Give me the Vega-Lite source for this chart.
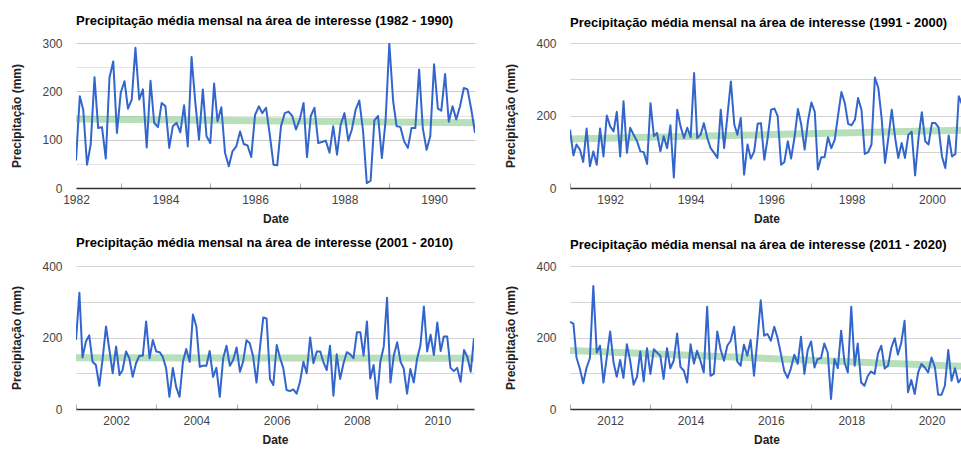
{
"$schema": "https://vega.github.io/schema/vega-lite/v6.json",
"padding": {"left": 10, "top": 15, "right": 0, "bottom": 0},
"bounds": "flush",
"columns": 2,
"spacing": {"row": 78, "column": 95},
"config": {
  "font": "Liberation Sans",
  "view": {"stroke": null},
  "axis": {"labelFont": "Liberation Sans", "labelFontSize": 12, "labelColor": "#444444", "titleFont": "Liberation Sans", "titleFontSize": 12, "titleFontWeight": "bold", "titleColor": "#222222", "labelFlush": false, "labelOverlap": false, "labelBound": false},
  "axisX": {"format": "%Y", "labelExpr": "utcyear(datum.value) % 2 == 0 ? datum.label : ''", "grid": true, "gridColor": "#cccccc", "gridOpacity": {"condition": {"test": "utcyear(datum.value) % 2 == 0", "value": 1}, "value": 0}, "ticks": true, "tickSize": -5, "tickColor": "#aaaaaa", "tickOpacity": {"condition": {"test": "utcyear(datum.value) % 2 == 0", "value": 0}, "value": 1}, "labelPadding": 11, "domain": true, "domainColor": "#333333", "domainWidth": 1.5, "titlePadding": 8},
  "axisY": {"grid": true, "domain": false, "ticks": false, "labelPadding": 14, "titlePadding": 18},
  "title": {"font": "Liberation Sans", "fontSize": 13, "fontWeight": "bold", "color": "#000000", "anchor": "start", "frame": "group"}
},
"concat": [
{
 "width": 399, "height": 145,
 "title": {"text": "Precipitação média mensal na área de interesse (1982 - 1990)", "offset": 9},
 "data": {"values": [
{"d":"1982-01-01","v":57},{"d":"1982-02-01","v":190},{"d":"1982-03-01","v":162},{"d":"1982-04-01","v":48},{"d":"1982-05-01","v":90},{"d":"1982-06-01","v":229},{"d":"1982-07-01","v":124},{"d":"1982-08-01","v":126},{"d":"1982-09-01","v":61},{"d":"1982-10-01","v":228},{"d":"1982-11-01","v":262},{"d":"1982-12-01","v":114},
{"d":"1983-01-01","v":197},{"d":"1983-02-01","v":221},{"d":"1983-03-01","v":164},{"d":"1983-04-01","v":183},{"d":"1983-05-01","v":290},{"d":"1983-06-01","v":183},{"d":"1983-07-01","v":204},{"d":"1983-08-01","v":84},{"d":"1983-09-01","v":222},{"d":"1983-10-01","v":135},{"d":"1983-11-01","v":126},{"d":"1983-12-01","v":176},
{"d":"1984-01-01","v":169},{"d":"1984-02-01","v":83},{"d":"1984-03-01","v":128},{"d":"1984-04-01","v":135},{"d":"1984-05-01","v":115},{"d":"1984-06-01","v":171},{"d":"1984-07-01","v":86},{"d":"1984-08-01","v":271},{"d":"1984-09-01","v":176},{"d":"1984-10-01","v":100},{"d":"1984-11-01","v":204},{"d":"1984-12-01","v":107},
{"d":"1985-01-01","v":93},{"d":"1985-02-01","v":216},{"d":"1985-03-01","v":138},{"d":"1985-04-01","v":167},{"d":"1985-05-01","v":73},{"d":"1985-06-01","v":45},{"d":"1985-07-01","v":76},{"d":"1985-08-01","v":86},{"d":"1985-09-01","v":117},{"d":"1985-10-01","v":91},{"d":"1985-11-01","v":88},{"d":"1985-12-01","v":64},
{"d":"1986-01-01","v":151},{"d":"1986-02-01","v":169},{"d":"1986-03-01","v":155},{"d":"1986-04-01","v":166},{"d":"1986-05-01","v":111},{"d":"1986-06-01","v":48},{"d":"1986-07-01","v":47},{"d":"1986-08-01","v":128},{"d":"1986-09-01","v":155},{"d":"1986-10-01","v":158},{"d":"1986-11-01","v":149},{"d":"1986-12-01","v":121},
{"d":"1987-01-01","v":142},{"d":"1987-02-01","v":176},{"d":"1987-03-01","v":64},{"d":"1987-04-01","v":149},{"d":"1987-05-01","v":166},{"d":"1987-06-01","v":93},{"d":"1987-07-01","v":95},{"d":"1987-08-01","v":98},{"d":"1987-09-01","v":73},{"d":"1987-10-01","v":128},{"d":"1987-11-01","v":69},{"d":"1987-12-01","v":131},
{"d":"1988-01-01","v":155},{"d":"1988-02-01","v":98},{"d":"1988-03-01","v":121},{"d":"1988-04-01","v":162},{"d":"1988-05-01","v":181},{"d":"1988-06-01","v":117},{"d":"1988-07-01","v":10},{"d":"1988-08-01","v":15},{"d":"1988-09-01","v":140},{"d":"1988-10-01","v":149},{"d":"1988-11-01","v":62},{"d":"1988-12-01","v":138},
{"d":"1989-01-01","v":299},{"d":"1989-02-01","v":180},{"d":"1989-03-01","v":128},{"d":"1989-04-01","v":126},{"d":"1989-05-01","v":97},{"d":"1989-06-01","v":83},{"d":"1989-07-01","v":124},{"d":"1989-08-01","v":124},{"d":"1989-09-01","v":245},{"d":"1989-10-01","v":124},{"d":"1989-11-01","v":79},{"d":"1989-12-01","v":107},
{"d":"1990-01-01","v":256},{"d":"1990-02-01","v":164},{"d":"1990-03-01","v":160},{"d":"1990-04-01","v":236},{"d":"1990-05-01","v":137},{"d":"1990-06-01","v":169},{"d":"1990-07-01","v":142},{"d":"1990-08-01","v":169},{"d":"1990-09-01","v":207},{"d":"1990-10-01","v":204},{"d":"1990-11-01","v":162},{"d":"1990-12-01","v":114}
 ]},
 "encoding": {
  "x": {"field": "d", "type": "temporal", "title": "Date", "scale": {"type": "utc", "nice": false, "domain": [{"year":1982,"month":1,"date":1,"utc":true},{"year":1990,"month":12,"date":1,"utc":true}]},
        "axis": {"values": [{"year":1982,"utc":true},{"year":1983,"utc":true},{"year":1984,"utc":true},{"year":1985,"utc":true},{"year":1986,"utc":true},{"year":1987,"utc":true},{"year":1988,"utc":true},{"year":1989,"utc":true},{"year":1990,"utc":true}]}},
  "y": {"field": "v", "type": "quantitative", "title": "Precipitação (mm)", "scale": {"domain": [0, 300], "nice": false},
        "axis": {"values": [0,50,100,150,200,250,300], "labelExpr": "datum.value % 100 == 0 ? datum.label : ''", "gridColor": {"condition": {"test": "datum.value % 100 == 0", "value": "#cccccc"}, "value": "#e4e4e4"}}}
 },
 "layer": [
  {"transform": [{"regression": "v", "on": "d"}], "mark": {"type": "line", "color": "#109618", "opacity": 0.3, "strokeWidth": 7, "clip": true}},
  {"mark": {"type": "line", "color": "#3366cc", "strokeWidth": 2, "strokeJoin": "round", "clip": true}}
 ]
},
{
 "width": 393, "height": 145,
 "title": {"text": "Precipitação média mensal na área de interesse (1991 - 2000)", "offset": 7},
 "data": {"values": [
{"d":"1991-01-01","v":161},{"d":"1991-02-01","v":90},{"d":"1991-03-01","v":120},{"d":"1991-04-01","v":106},{"d":"1991-05-01","v":72},{"d":"1991-06-01","v":164},{"d":"1991-07-01","v":60},{"d":"1991-08-01","v":101},{"d":"1991-09-01","v":64},{"d":"1991-10-01","v":164},{"d":"1991-11-01","v":87},{"d":"1991-12-01","v":200},
{"d":"1992-01-01","v":170},{"d":"1992-02-01","v":156},{"d":"1992-03-01","v":210},{"d":"1992-04-01","v":87},{"d":"1992-05-01","v":239},{"d":"1992-06-01","v":97},{"d":"1992-07-01","v":166},{"d":"1992-08-01","v":147},{"d":"1992-09-01","v":129},{"d":"1992-10-01","v":101},{"d":"1992-11-01","v":99},{"d":"1992-12-01","v":66},
{"d":"1993-01-01","v":234},{"d":"1993-02-01","v":143},{"d":"1993-03-01","v":152},{"d":"1993-04-01","v":101},{"d":"1993-05-01","v":143},{"d":"1993-06-01","v":110},{"d":"1993-07-01","v":173},{"d":"1993-08-01","v":29},{"d":"1993-09-01","v":216},{"d":"1993-10-01","v":170},{"d":"1993-11-01","v":138},{"d":"1993-12-01","v":166},
{"d":"1994-01-01","v":140},{"d":"1994-02-01","v":317},{"d":"1994-03-01","v":138},{"d":"1994-04-01","v":147},{"d":"1994-05-01","v":179},{"d":"1994-06-01","v":138},{"d":"1994-07-01","v":110},{"d":"1994-08-01","v":97},{"d":"1994-09-01","v":83},{"d":"1994-10-01","v":216},{"d":"1994-11-01","v":110},{"d":"1994-12-01","v":200},
{"d":"1995-01-01","v":294},{"d":"1995-02-01","v":175},{"d":"1995-03-01","v":147},{"d":"1995-04-01","v":193},{"d":"1995-05-01","v":37},{"d":"1995-06-01","v":120},{"d":"1995-07-01","v":81},{"d":"1995-08-01","v":101},{"d":"1995-09-01","v":177},{"d":"1995-10-01","v":179},{"d":"1995-11-01","v":78},{"d":"1995-12-01","v":138},
{"d":"1996-01-01","v":216},{"d":"1996-02-01","v":219},{"d":"1996-03-01","v":198},{"d":"1996-04-01","v":64},{"d":"1996-05-01","v":72},{"d":"1996-06-01","v":129},{"d":"1996-07-01","v":81},{"d":"1996-08-01","v":140},{"d":"1996-09-01","v":218},{"d":"1996-10-01","v":175},{"d":"1996-11-01","v":106},{"d":"1996-12-01","v":184},
{"d":"1997-01-01","v":236},{"d":"1997-02-01","v":210},{"d":"1997-03-01","v":51},{"d":"1997-04-01","v":85},{"d":"1997-05-01","v":85},{"d":"1997-06-01","v":140},{"d":"1997-07-01","v":110},{"d":"1997-08-01","v":133},{"d":"1997-09-01","v":202},{"d":"1997-10-01","v":265},{"d":"1997-11-01","v":234},{"d":"1997-12-01","v":177},
{"d":"1998-01-01","v":173},{"d":"1998-02-01","v":189},{"d":"1998-03-01","v":248},{"d":"1998-04-01","v":216},{"d":"1998-05-01","v":94},{"d":"1998-06-01","v":99},{"d":"1998-07-01","v":120},{"d":"1998-08-01","v":305},{"d":"1998-09-01","v":276},{"d":"1998-10-01","v":193},{"d":"1998-11-01","v":69},{"d":"1998-12-01","v":138},
{"d":"1999-01-01","v":216},{"d":"1999-02-01","v":138},{"d":"1999-03-01","v":83},{"d":"1999-04-01","v":124},{"d":"1999-05-01","v":83},{"d":"1999-06-01","v":147},{"d":"1999-07-01","v":155},{"d":"1999-08-01","v":35},{"d":"1999-09-01","v":138},{"d":"1999-10-01","v":209},{"d":"1999-11-01","v":129},{"d":"1999-12-01","v":120},
{"d":"2000-01-01","v":179},{"d":"2000-02-01","v":179},{"d":"2000-03-01","v":167},{"d":"2000-04-01","v":87},{"d":"2000-05-01","v":55},{"d":"2000-06-01","v":145},{"d":"2000-07-01","v":87},{"d":"2000-08-01","v":94},{"d":"2000-09-01","v":253},{"d":"2000-10-01","v":230},{"d":"2000-11-01","v":215},{"d":"2000-12-01","v":150}
 ]},
 "encoding": {
  "x": {"field": "d", "type": "temporal", "title": "Date", "scale": {"type": "utc", "nice": false, "domain": [{"year":1991,"month":1,"date":1,"utc":true},{"year":2000,"month":10,"date":9,"utc":true}]},
        "axis": {"values": [{"year":1991,"utc":true},{"year":1992,"utc":true},{"year":1993,"utc":true},{"year":1994,"utc":true},{"year":1995,"utc":true},{"year":1996,"utc":true},{"year":1997,"utc":true},{"year":1998,"utc":true},{"year":1999,"utc":true},{"year":2000,"utc":true}]}},
  "y": {"field": "v", "type": "quantitative", "title": "Precipitação (mm)", "scale": {"domain": [0, 400], "nice": false},
        "axis": {"values": [0,100,200,300,400], "labelExpr": "datum.value % 200 == 0 ? datum.label : ''", "gridColor": "#d4d4d4"}}
 },
 "layer": [
  {"transform": [{"regression": "v", "on": "d"}], "mark": {"type": "line", "color": "#109618", "opacity": 0.3, "strokeWidth": 7, "clip": true}},
  {"mark": {"type": "line", "color": "#3366cc", "strokeWidth": 2, "strokeJoin": "round", "clip": true}}
 ]
},
{
 "width": 398, "height": 143,
 "title": {"text": "Precipitação média mensal na área de interesse (2001 - 2010)", "offset": 10},
 "data": {"values": [
{"d":"2001-01-01","v":193},{"d":"2001-02-01","v":325},{"d":"2001-03-01","v":144},{"d":"2001-04-01","v":189},{"d":"2001-05-01","v":206},{"d":"2001-06-01","v":132},{"d":"2001-07-01","v":123},{"d":"2001-08-01","v":65},{"d":"2001-09-01","v":142},{"d":"2001-10-01","v":231},{"d":"2001-11-01","v":165},{"d":"2001-12-01","v":100},
{"d":"2002-01-01","v":175},{"d":"2002-02-01","v":95},{"d":"2002-03-01","v":109},{"d":"2002-04-01","v":161},{"d":"2002-05-01","v":142},{"d":"2002-06-01","v":90},{"d":"2002-07-01","v":128},{"d":"2002-08-01","v":149},{"d":"2002-09-01","v":149},{"d":"2002-10-01","v":245},{"d":"2002-11-01","v":142},{"d":"2002-12-01","v":193},
{"d":"2003-01-01","v":161},{"d":"2003-02-01","v":159},{"d":"2003-03-01","v":146},{"d":"2003-04-01","v":114},{"d":"2003-05-01","v":34},{"d":"2003-06-01","v":115},{"d":"2003-07-01","v":62},{"d":"2003-08-01","v":34},{"d":"2003-09-01","v":132},{"d":"2003-10-01","v":168},{"d":"2003-11-01","v":132},{"d":"2003-12-01","v":264},
{"d":"2004-01-01","v":231},{"d":"2004-02-01","v":118},{"d":"2004-03-01","v":121},{"d":"2004-04-01","v":121},{"d":"2004-05-01","v":162},{"d":"2004-06-01","v":90},{"d":"2004-07-01","v":115},{"d":"2004-08-01","v":34},{"d":"2004-09-01","v":142},{"d":"2004-10-01","v":177},{"d":"2004-11-01","v":121},{"d":"2004-12-01","v":137},
{"d":"2005-01-01","v":172},{"d":"2005-02-01","v":104},{"d":"2005-03-01","v":132},{"d":"2005-04-01","v":192},{"d":"2005-05-01","v":184},{"d":"2005-06-01","v":146},{"d":"2005-07-01","v":74},{"d":"2005-08-01","v":170},{"d":"2005-09-01","v":256},{"d":"2005-10-01","v":253},{"d":"2005-11-01","v":84},{"d":"2005-12-01","v":67},
{"d":"2006-01-01","v":179},{"d":"2006-02-01","v":142},{"d":"2006-03-01","v":115},{"d":"2006-04-01","v":53},{"d":"2006-05-01","v":50},{"d":"2006-06-01","v":55},{"d":"2006-07-01","v":43},{"d":"2006-08-01","v":76},{"d":"2006-09-01","v":132},{"d":"2006-10-01","v":100},{"d":"2006-11-01","v":200},{"d":"2006-12-01","v":128},
{"d":"2007-01-01","v":161},{"d":"2007-02-01","v":161},{"d":"2007-03-01","v":132},{"d":"2007-04-01","v":109},{"d":"2007-05-01","v":177},{"d":"2007-06-01","v":37},{"d":"2007-07-01","v":153},{"d":"2007-08-01","v":84},{"d":"2007-09-01","v":128},{"d":"2007-10-01","v":159},{"d":"2007-11-01","v":153},{"d":"2007-12-01","v":142},
{"d":"2008-01-01","v":215},{"d":"2008-02-01","v":215},{"d":"2008-03-01","v":149},{"d":"2008-04-01","v":245},{"d":"2008-05-01","v":85},{"d":"2008-06-01","v":123},{"d":"2008-07-01","v":29},{"d":"2008-08-01","v":132},{"d":"2008-09-01","v":175},{"d":"2008-10-01","v":311},{"d":"2008-11-01","v":74},{"d":"2008-12-01","v":149},
{"d":"2009-01-01","v":187},{"d":"2009-02-01","v":132},{"d":"2009-03-01","v":114},{"d":"2009-04-01","v":43},{"d":"2009-05-01","v":112},{"d":"2009-06-01","v":74},{"d":"2009-07-01","v":140},{"d":"2009-08-01","v":179},{"d":"2009-09-01","v":287},{"d":"2009-10-01","v":161},{"d":"2009-11-01","v":208},{"d":"2009-12-01","v":151},
{"d":"2010-01-01","v":242},{"d":"2010-02-01","v":162},{"d":"2010-03-01","v":203},{"d":"2010-04-01","v":203},{"d":"2010-05-01","v":115},{"d":"2010-06-01","v":106},{"d":"2010-07-01","v":115},{"d":"2010-08-01","v":76},{"d":"2010-09-01","v":165},{"d":"2010-10-01","v":146},{"d":"2010-11-01","v":104},{"d":"2010-12-01","v":198}
 ]},
 "encoding": {
  "x": {"field": "d", "type": "temporal", "title": "Date", "scale": {"type": "utc", "nice": false, "domain": [{"year":2001,"month":1,"date":1,"utc":true},{"year":2010,"month":12,"date":1,"utc":true}]},
        "axis": {"values": [{"year":2001,"utc":true},{"year":2002,"utc":true},{"year":2003,"utc":true},{"year":2004,"utc":true},{"year":2005,"utc":true},{"year":2006,"utc":true},{"year":2007,"utc":true},{"year":2008,"utc":true},{"year":2009,"utc":true},{"year":2010,"utc":true}]}},
  "y": {"field": "v", "type": "quantitative", "title": "Precipitação (mm)", "scale": {"domain": [0, 400], "nice": false},
        "axis": {"values": [0,100,200,300,400], "labelExpr": "datum.value % 200 == 0 ? datum.label : ''", "gridColor": "#d4d4d4"}}
 },
 "layer": [
  {"transform": [{"regression": "v", "on": "d"}], "mark": {"type": "line", "color": "#109618", "opacity": 0.3, "strokeWidth": 7, "clip": true}},
  {"mark": {"type": "line", "color": "#3366cc", "strokeWidth": 2, "strokeJoin": "round", "clip": true}}
 ]
},
{
 "width": 393, "height": 143,
 "title": {"text": "Precipitação média mensal na área de interesse (2011 - 2020)", "offset": 8},
 "data": {"values": [
{"d":"2011-01-01","v":244},{"d":"2011-02-01","v":239},{"d":"2011-03-01","v":144},{"d":"2011-04-01","v":112},{"d":"2011-05-01","v":72},{"d":"2011-06-01","v":116},{"d":"2011-07-01","v":142},{"d":"2011-08-01","v":344},{"d":"2011-09-01","v":158},{"d":"2011-10-01","v":177},{"d":"2011-11-01","v":74},{"d":"2011-12-01","v":144},
{"d":"2012-01-01","v":217},{"d":"2012-02-01","v":130},{"d":"2012-03-01","v":90},{"d":"2012-04-01","v":137},{"d":"2012-05-01","v":87},{"d":"2012-06-01","v":181},{"d":"2012-07-01","v":135},{"d":"2012-08-01","v":68},{"d":"2012-09-01","v":90},{"d":"2012-10-01","v":161},{"d":"2012-11-01","v":77},{"d":"2012-12-01","v":170},
{"d":"2013-01-01","v":98},{"d":"2013-02-01","v":167},{"d":"2013-03-01","v":158},{"d":"2013-04-01","v":149},{"d":"2013-05-01","v":84},{"d":"2013-06-01","v":170},{"d":"2013-07-01","v":114},{"d":"2013-08-01","v":135},{"d":"2013-09-01","v":211},{"d":"2013-10-01","v":118},{"d":"2013-11-01","v":107},{"d":"2013-12-01","v":74},
{"d":"2014-01-01","v":181},{"d":"2014-02-01","v":127},{"d":"2014-03-01","v":163},{"d":"2014-04-01","v":135},{"d":"2014-05-01","v":102},{"d":"2014-06-01","v":286},{"d":"2014-07-01","v":93},{"d":"2014-08-01","v":98},{"d":"2014-09-01","v":217},{"d":"2014-10-01","v":167},{"d":"2014-11-01","v":135},{"d":"2014-12-01","v":177},
{"d":"2015-01-01","v":191},{"d":"2015-02-01","v":230},{"d":"2015-03-01","v":133},{"d":"2015-04-01","v":121},{"d":"2015-05-01","v":180},{"d":"2015-06-01","v":149},{"d":"2015-07-01","v":193},{"d":"2015-08-01","v":93},{"d":"2015-09-01","v":195},{"d":"2015-10-01","v":304},{"d":"2015-11-01","v":205},{"d":"2015-12-01","v":210},
{"d":"2016-01-01","v":191},{"d":"2016-02-01","v":230},{"d":"2016-03-01","v":200},{"d":"2016-04-01","v":155},{"d":"2016-05-01","v":107},{"d":"2016-06-01","v":87},{"d":"2016-07-01","v":113},{"d":"2016-08-01","v":152},{"d":"2016-09-01","v":126},{"d":"2016-10-01","v":202},{"d":"2016-11-01","v":98},{"d":"2016-12-01","v":165},
{"d":"2017-01-01","v":189},{"d":"2017-02-01","v":116},{"d":"2017-03-01","v":140},{"d":"2017-04-01","v":142},{"d":"2017-05-01","v":183},{"d":"2017-06-01","v":158},{"d":"2017-07-01","v":28},{"d":"2017-08-01","v":140},{"d":"2017-09-01","v":114},{"d":"2017-10-01","v":219},{"d":"2017-11-01","v":130},{"d":"2017-12-01","v":102},
{"d":"2018-01-01","v":286},{"d":"2018-02-01","v":121},{"d":"2018-03-01","v":183},{"d":"2018-04-01","v":74},{"d":"2018-05-01","v":65},{"d":"2018-06-01","v":93},{"d":"2018-07-01","v":105},{"d":"2018-08-01","v":98},{"d":"2018-09-01","v":155},{"d":"2018-10-01","v":177},{"d":"2018-11-01","v":113},{"d":"2018-12-01","v":121},
{"d":"2019-01-01","v":172},{"d":"2019-02-01","v":198},{"d":"2019-03-01","v":152},{"d":"2019-04-01","v":186},{"d":"2019-05-01","v":247},{"d":"2019-06-01","v":47},{"d":"2019-07-01","v":81},{"d":"2019-08-01","v":42},{"d":"2019-09-01","v":102},{"d":"2019-10-01","v":126},{"d":"2019-11-01","v":116},{"d":"2019-12-01","v":102},
{"d":"2020-01-01","v":144},{"d":"2020-02-01","v":116},{"d":"2020-03-01","v":40},{"d":"2020-04-01","v":40},{"d":"2020-05-01","v":65},{"d":"2020-06-01","v":165},{"d":"2020-07-01","v":79},{"d":"2020-08-01","v":114},{"d":"2020-09-01","v":74},{"d":"2020-10-01","v":87},{"d":"2020-11-01","v":95},{"d":"2020-12-01","v":110}
 ]},
 "encoding": {
  "x": {"field": "d", "type": "temporal", "title": "Date", "scale": {"type": "utc", "nice": false, "domain": [{"year":2011,"month":1,"date":1,"utc":true},{"year":2020,"month":10,"date":13,"utc":true}]},
        "axis": {"values": [{"year":2011,"utc":true},{"year":2012,"utc":true},{"year":2013,"utc":true},{"year":2014,"utc":true},{"year":2015,"utc":true},{"year":2016,"utc":true},{"year":2017,"utc":true},{"year":2018,"utc":true},{"year":2019,"utc":true},{"year":2020,"utc":true}]}},
  "y": {"field": "v", "type": "quantitative", "title": "Precipitação (mm)", "scale": {"domain": [0, 400], "nice": false},
        "axis": {"values": [0,100,200,300,400], "labelExpr": "datum.value % 200 == 0 ? datum.label : ''", "gridColor": "#d4d4d4"}}
 },
 "layer": [
  {"transform": [{"regression": "v", "on": "d"}], "mark": {"type": "line", "color": "#109618", "opacity": 0.3, "strokeWidth": 7, "clip": true}},
  {"mark": {"type": "line", "color": "#3366cc", "strokeWidth": 2, "strokeJoin": "round", "clip": true}}
 ]
}
]
}
